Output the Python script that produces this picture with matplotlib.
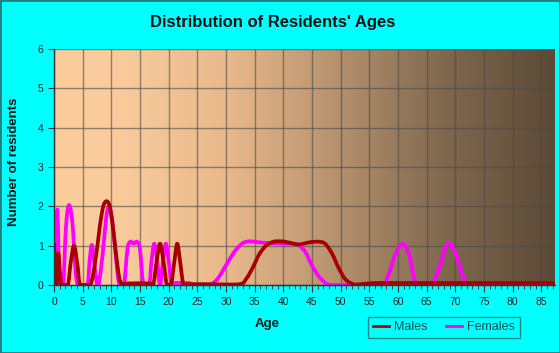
import numpy as np
import matplotlib
matplotlib.use("Agg")
import matplotlib.pyplot as plt
from matplotlib.path import Path
from matplotlib.patches import PathPatch, Rectangle
from matplotlib.colors import LinearSegmentedColormap
from matplotlib.lines import Line2D

plt.rcParams['font.family'] = ['Liberation Sans', 'DejaVu Sans']

title = "Distribution of Residents' Ages"
xlabel = "Age"
ylabel = "Number of residents"
series_names = ["Males", "Females"]
series_colors = ["#A80000", "#FF00FF"]

male_age = [0, 0.2, 0.45, 0.75, 1.05, 1.35, 2.4, 2.9, 3.5, 4.1, 4.6, 6.3, 7.2, 8.0, 8.6, 9.2, 9.8, 10.5, 11.3, 11.9,
            13, 16.5, 17.3, 17.9, 18.5, 19.1, 19.7, 20.4, 21.0, 21.5, 22.0, 22.6, 23.5, 27, 32.3,
            33.5, 34.7, 35.8, 37.0, 38.3, 39.6, 41.0, 42.5, 43.5, 44.8, 46.2, 47.3, 48.5, 49.6, 50.8, 52.2, 53.5,
            56, 60, 70, 80, 87.4]
male_val = [1.05, 0.5, 0.0, 0.8, 0.3, 0.0, 0.0, 0.55, 1.0, 0.5, 0.0, 0.0, 0.6, 1.5, 2.0, 2.13, 1.95, 1.2, 0.25, 0.03,
            0.04, 0.04, 0.0, 0.6, 1.05, 0.6, 0.0, 0.0, 0.6, 1.05, 0.6, 0.0, 0.02, 0.02, 0.02,
            0.15, 0.45, 0.78, 1.0, 1.1, 1.11, 1.08, 1.03, 1.05, 1.09, 1.1, 1.05, 0.8, 0.45, 0.15, 0.02, 0.02,
            0.05, 0.05, 0.05, 0.05, 0.05]

female_age = [0, 0.3, 0.58, 0.85, 1.1, 1.6, 2.1, 2.6, 3.2, 3.8, 4.3, 5.8, 6.2, 6.6, 7.0, 7.5, 7.8, 8.5, 9.1, 9.6,
              10.2, 10.8, 11.4, 12.2, 12.8, 13.3, 13.9, 14.5, 15.0, 15.6, 16.6, 17.0, 17.5, 18.0, 18.5, 19.0,
              19.5, 20.0, 20.5, 21.0, 23.5, 24.5, 27.0, 28.5, 30.0, 31.5, 32.8, 34.0, 35.5, 37.0, 39.0, 41.0,
              42.5, 43.8, 45.0, 46.3, 47.6, 49, 56.8, 58.3, 59.6, 60.9, 62.0, 63.3, 65.8, 67.2, 68.6, 69.9,
              71.2, 72.5, 80, 87.4]
female_val = [0.0, 0.0, 1.92, 0.5, 0.0, 0.0, 1.5, 2.03, 1.6, 0.3, 0.0, 0.0, 0.6, 1.02, 0.6, 0.0, 0.0, 0.8, 1.7, 2.0,
              1.6, 0.7, 0.0, 0.0, 0.9, 1.1, 1.05, 1.1, 0.9, 0.0, 0.0, 0.6, 1.05, 0.6, 0.0, 0.6,
              1.05, 0.6, 0.05, 0.05, 0.05, 0.0, 0.0, 0.15, 0.5, 0.85, 1.05, 1.11, 1.09, 1.07, 1.06, 1.05,
              1.03, 0.85, 0.5, 0.2, 0.03, 0.0, 0.0, 0.25, 0.8, 1.05, 0.75, 0.0, 0.0, 0.45, 1.05, 0.85,
              0.3, 0.0, 0.0, 0.0]

x_max = 87.4
y_max = 6
x_ticks = list(range(0, 90, 5))
y_ticks = list(range(0, 7))


def smooth_path(xs, ys):
    xs = np.asarray(xs, float)
    ys = np.asarray(ys, float)
    n = len(xs)
    verts = [(xs[0], ys[0])]
    codes = [Path.MOVETO]
    for i in range(n - 1):
        p0 = np.array([xs[max(i - 1, 0)], ys[max(i - 1, 0)]])
        p1 = np.array([xs[i], ys[i]])
        p2 = np.array([xs[i + 1], ys[i + 1]])
        p3 = np.array([xs[min(i + 2, n - 1)], ys[min(i + 2, n - 1)]])
        t = 1.0 / 6.0
        c1 = p1 + (p2 - p0) * t
        c2 = p2 - (p3 - p1) * t
        c1[0] = np.clip(c1[0], p1[0], p2[0])
        c2[0] = np.clip(c2[0], p1[0], p2[0])
        c1[1] = max(c1[1], 0.0)
        c2[1] = max(c2[1], 0.0)
        verts += [tuple(c1), tuple(c2), tuple(p2)]
        codes += [Path.CURVE4] * 3
    return Path(verts, codes)


fig = plt.figure(figsize=(5.6, 3.53), dpi=100)
fig.patch.set_facecolor('#00FFFF')
ax = fig.add_axes([54 / 560, 1 - 285 / 353, (555 - 54) / 560, (285 - 49) / 353])

# background gradient
cmap = LinearSegmentedColormap.from_list('bg', [
    (0.0, (250/255, 204/255, 156/255)),
    (0.12, (250/255, 204/255, 156/255)),
    (0.35, (232/255, 184/255, 138/255)),
    (0.55, (185/255, 148/255, 112/255)),
    (0.78, (128/255, 104/255, 79/255)),
    (1.0, (92/255, 74/255, 54/255)),
])
grad = np.linspace(0, 1, 512).reshape(1, -1)
ax.imshow(grad, cmap=cmap, aspect='auto', extent=[0, x_max, 0, y_max], zorder=0, interpolation='bilinear')

ax.set_xlim(0, x_max)
ax.set_ylim(0, y_max)
ax.set_xticks(x_ticks)
ax.set_xticks(np.arange(0, 88, 1), minor=True)
ax.set_yticks(y_ticks)
ax.grid(True, which='major', color='#4a4a4a', alpha=0.6, linewidth=1.0, zorder=1)
ax.set_axisbelow(False)

pf = PathPatch(smooth_path(female_age, female_val), facecolor='none', edgecolor=series_colors[1],
               linewidth=2.7, zorder=3, capstyle='round', joinstyle='round')
pm = PathPatch(smooth_path(male_age, male_val), facecolor='none', edgecolor=series_colors[0],
               linewidth=2.7, zorder=4, capstyle='round', joinstyle='round')
ax.add_patch(pf)
ax.add_patch(pm)

for s in ['top', 'right']:
    ax.spines[s].set_visible(False)
for s in ['left', 'bottom']:
    ax.spines[s].set_color('#333333')
    ax.spines[s].set_linewidth(1.0)
    ax.spines[s].set_zorder(5)

ax.tick_params(axis='both', which='major', labelsize=7.5, labelcolor='#222222', color='#333333')
ax.tick_params(axis='x', which='major', length=5, direction='out')
ax.tick_params(axis='x', which='minor', length=3, direction='out', color='#333333')
ax.tick_params(axis='y', which='major', length=4, direction='out')

fig.text(273 / 560, 1 - 23 / 353, title, ha='center', va='center', fontsize=12, fontweight='bold', color='#111111')
fig.text(267 / 560, 1 - 324 / 353, xlabel, ha='center', va='center', fontsize=9.5, fontweight='bold', color='#111111')
fig.text(14 / 560, 1 - 162 / 353, ylabel, ha='center', va='center', rotation=90, fontsize=9.5,
         fontweight='bold', color='#111111')

handles = [Line2D([], [], color=c, linewidth=2) for c in series_colors]
leg = fig.legend(handles, series_names, loc='center', bbox_to_anchor=(444 / 560, 1 - 327.5 / 353),
                 ncol=2, fontsize=9, frameon=True, fancybox=False, handlelength=1.3, handletextpad=0.4,
                 columnspacing=1.5, borderpad=0.35)
leg.get_frame().set_facecolor('#00FFFF')
leg.get_frame().set_edgecolor('#207070')
leg.get_frame().set_linewidth(1.0)
for t in leg.get_texts():
    t.set_color('#1c4a4a')

fig.add_artist(Rectangle((0, 0), 1, 1, transform=fig.transFigure, fill=False, edgecolor='#208080',
                         linewidth=2))

fig.savefig('out.png', dpi=100, facecolor=fig.get_facecolor())
